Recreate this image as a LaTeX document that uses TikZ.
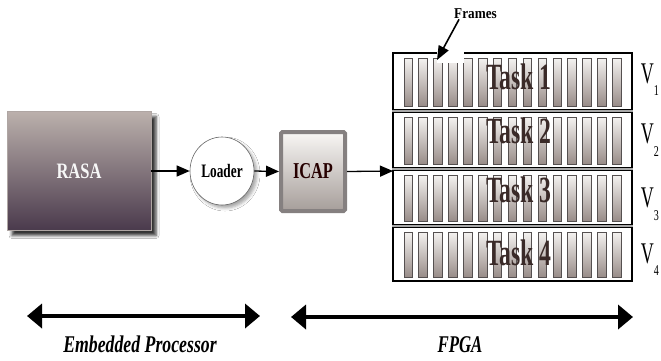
\documentclass[tikz,border=0pt]{standalone}
\usepackage{fontspec}
\setmainfont{Liberation Serif}
\usetikzlibrary{arrows.meta,shadows.blur,shapes.geometric}
\definecolor{rasatop}{HTML}{BBB0AC}
\definecolor{rasabot}{HTML}{4A3A4C}
\definecolor{icapborder}{HTML}{858080}
\definecolor{icaptop}{HTML}{F8F6F4}
\definecolor{icapbot}{HTML}{A69E9A}
\definecolor{frametop}{HTML}{F4F2F0}
\definecolor{framebot}{HTML}{988C88}
\definecolor{frameline}{HTML}{555050}
\definecolor{tasktext}{HTML}{3A2A28}
\definecolor{rowgray}{HTML}{A8A8A8}
\begin{document}
\begin{tikzpicture}[x=1pt,y=-1pt,
  conn/.style={line width=1.3pt,-{Triangle[length=13pt,width=11pt]}},
  bigarrow/.style={line width=4.5pt,{Triangle[length=15pt,width=24pt]}-{Triangle[length=15pt,width=24pt]}},
  rowbox/.style={draw=black,line width=1.3pt,minimum width=239pt,inner sep=0pt},
  framebar/.style={draw=frameline,line width=0.9pt,minimum width=8.5pt,inner sep=0pt,
     top color=frametop,bottom color=framebot},
  tasklbl/.style={font=\fontsize{37}{37}\selectfont\bfseries,text=tasktext,inner sep=0pt,anchor=base},
  vlbl/.style={font=\fontsize{30}{30}\selectfont,inner sep=0pt,anchor=base},
  botlbl/.style={font=\fontsize{24}{24}\selectfont\bfseries\itshape,inner sep=0pt,anchor=base}]
\useasboundingbox (0,0) rectangle (661,360);
\fill[white] (0,0) rectangle (661,360);

% RASA
\node[rectangle,minimum width=144pt,minimum height=119pt,inner sep=0pt,
  top color=rasatop,bottom color=rasabot,draw=rasatop!80!gray,line width=0.6pt,
  blur shadow={shadow xshift=5pt,shadow yshift=-5pt,shadow blur radius=3pt,shadow opacity=80},
  font=\fontsize{22}{22}\selectfont\bfseries,text=white!94!gray] (rasa) at (79,171) {\scalebox{0.75}[1]{RASA}};

% Loader
\node[ellipse,minimum width=64pt,minimum height=68pt,inner sep=0pt,fill=white,draw=gray!80!black,line width=0.6pt,
  blur shadow={shadow xshift=3pt,shadow yshift=-3pt,shadow blur radius=3pt,shadow opacity=35},
  font=\fontsize{19}{19}\selectfont\bfseries] (loader) at (222,171) {\scalebox{0.7}[1]{Loader}};

% ICAP
\node[rectangle,minimum width=64pt,minimum height=79pt,inner sep=0pt,draw=icapborder,line width=4pt,
  rounded corners=1.5pt,top color=icaptop,bottom color=icapbot,
  font=\fontsize{22.7}{22.7}\selectfont\bfseries,text=black!85!red] (icap) at (313,171.5) {\scalebox{0.72}[1]{ICAP}};

% FPGA rows
\node[rowbox,minimum height=57pt] (row1) at (512.5,81.5) {};
\node[rowbox,minimum height=56pt] (row2) at (512.5,140) {};
\node[rowbox,minimum height=55pt] (row3) at (512.5,197.5) {};
\node[rowbox,minimum height=54pt] (row4) at (512.5,254) {};
\foreach \r in {2,3,4}{
  \draw[rowgray,line width=1.8pt] (row\r.north west) -- (row\r.north east);
}

% frames
\foreach \r/\t/\b in {1/53/110,2/112/168,3/170/225,4/227/281}{
  \foreach \k in {0,...,14}{
    \node[framebar,minimum height={(\b-\t-9)*1pt}] (f\r-\k) at ({408.25+\k*14.9},{(\t+\b)/2+0.5}) {};
  }
}

% gap at Frames arrow
\fill[white] (436.5,50) rectangle (463.5,62.5);

% task labels
\node[tasklbl] (t1) at (519,89) {\scalebox{0.64}[1]{Task 1}};
\node[tasklbl] (t2) at (519,143) {\scalebox{0.64}[1]{Task 2}};
\node[tasklbl] (t3) at (519,202) {\scalebox{0.64}[1]{Task 3}};
\node[tasklbl] (t4) at (519,265) {\scalebox{0.64}[1]{Task 4}};

% V labels
\node[vlbl] (v1) at (650,83) {\scalebox{0.6}[1]{V}\raisebox{-12pt}{\fontsize{15}{15}\selectfont\scalebox{0.67}[1]{1}}};
\node[vlbl] (v2) at (650,143) {\scalebox{0.6}[1]{V}\raisebox{-13pt}{\fontsize{15}{15}\selectfont\scalebox{0.67}[1]{2}}};
\node[vlbl] (v3) at (650,207) {\scalebox{0.6}[1]{V}\raisebox{-13pt}{\fontsize{15}{15}\selectfont\scalebox{0.67}[1]{3}}};
\node[vlbl] (v4) at (650,263) {\scalebox{0.6}[1]{V}\raisebox{-12pt}{\fontsize{15}{15}\selectfont\scalebox{0.67}[1]{4}}};

% Frames label
\node[font=\fontsize{15}{15}\selectfont\bfseries,inner sep=1pt,anchor=base] (frames) at (475.5,18) {\scalebox{0.88}[1]{Frames}};
\coordinate (ftip) at (437,60);
\draw[line width=1.6pt,-{Triangle[length=14pt,width=11pt]}] ([xshift=6pt]frames.south west) -- (ftip);

% connectors
\coordinate (fpgain) at (393,171);
\draw[conn] (rasa.east) -- (loader.west);
\draw[conn] (loader.east) -- (icap.west);
\draw[conn] (icap.east) -- (fpgain);

% bottom arrows
\coordinate (epl) at (27,316);
\coordinate (epr) at (260,316);
\coordinate (fpl) at (291,317);
\coordinate (fpr) at (633,317);
\draw[bigarrow] (epl) -- (epr);
\draw[bigarrow] (fpl) -- (fpr);
\node[botlbl] (eplbl) at (140,352) {\scalebox{0.74}[1]{Embedded Processor}};
\node[botlbl] (fplbl) at (460,352) {\scalebox{0.7}[1]{FPGA}};
\end{tikzpicture}
\end{document}
